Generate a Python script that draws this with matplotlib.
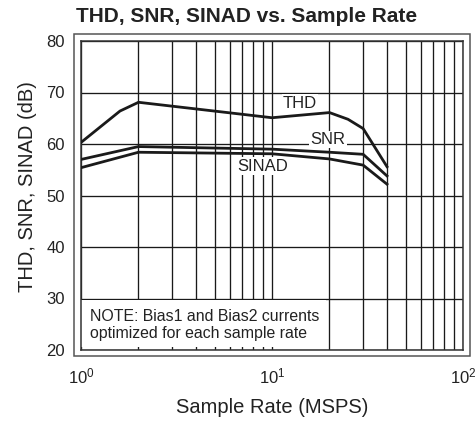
import matplotlib
matplotlib.use("Agg")
import matplotlib.pyplot as plt
import matplotlib.patches as patches
from matplotlib.ticker import FixedLocator, FixedFormatter, NullFormatter

plt.rcParams["font.family"] = ["Liberation Sans", "DejaVu Sans"]

# curves (sample rate in MSPS, level in dB)
thd_x = [1, 1.6, 2, 10, 20, 25, 30, 40]
thd_y = [60.3, 66.4, 68.1, 65.1, 66.1, 64.8, 63.0, 55.6]
snr_x = [1, 2, 10, 20, 30, 40]
snr_y = [57.0, 59.5, 59.0, 58.4, 58.0, 53.8]
sinad_x = [1, 2, 10, 20, 30, 40]
sinad_y = [55.4, 58.4, 58.1, 57.1, 55.9, 52.2]

x_ticks = [1, 10, 100]
x_tick_labels = [r"$\mathregular{10^{0}}$", r"$\mathregular{10^{1}}$", r"$\mathregular{10^{2}}$"]
y_ticks = [20, 30, 40, 50, 60, 70, 80]
minor_x = [m * d for d in (1, 10) for m in range(2, 10)]

ink = "#1a1a1a"
txt = "#222222"

fig = plt.figure(figsize=(4.77, 4.22), dpi=100)
ax = fig.add_axes([81 / 477, 1 - 350 / 422, 382 / 477, 309 / 422])

ax.set_xscale("log")
ax.set_xlim(1, 100)
ax.set_ylim(20, 80)
ax.xaxis.set_major_locator(FixedLocator(x_ticks))
ax.xaxis.set_major_formatter(FixedFormatter(x_tick_labels))
ax.xaxis.set_minor_locator(FixedLocator(minor_x))
ax.xaxis.set_minor_formatter(NullFormatter())
ax.set_yticks(y_ticks)
ax.tick_params(which="both", length=0, labelsize=12, colors=txt)
ax.tick_params(axis="x", pad=12)
ax.tick_params(axis="y", pad=11.5)

ax.set_axisbelow(True)
ax.grid(True, which="both", color=ink, lw=0.95)
for s in ax.spines.values():
    s.set_color("#333333")
    s.set_linewidth(1.1)

# white box behind the note
ax.add_patch(patches.Rectangle((1, 20.6), 18.2, 9.2, facecolor="white",
                               edgecolor="none", zorder=1))

for xs, ys in [(thd_x, thd_y), (snr_x, snr_y), (sinad_x, sinad_y)]:
    ax.plot(xs, ys, color=ink, lw=2.0, zorder=3, solid_joinstyle="round")

lab_box = dict(facecolor="white", edgecolor="none", pad=1)
ax.text(14.0, 67.9, "THD", fontsize=12, ha="center", va="center", color=txt, bbox=lab_box, zorder=4)
ax.text(19.6, 60.9, "SNR", fontsize=12, ha="center", va="center", color=txt, bbox=lab_box, zorder=4)
ax.text(8.9, 55.7, "SINAD", fontsize=12, ha="center", va="center", color=txt, bbox=lab_box, zorder=4)

ax.text(1.12, 24.9, "NOTE: Bias1 and Bias2 currents\noptimized for each sample rate",
        fontsize=11.4, ha="left", va="center", linespacing=1.2, color=txt, zorder=4)

ax.set_xlabel("Sample Rate (MSPS)", fontsize=14.5, color=txt, labelpad=8)
ax.set_ylabel("THD, SNR, SINAD (dB)", fontsize=14.5, color=txt)
ax.yaxis.set_label_coords(-0.115, 0.53)

fig.text(247 / 477, 1 - 17 / 422, "THD, SNR, SINAD vs. Sample Rate",
         fontsize=15, fontweight="bold", ha="center", va="center", color=txt)

# outer frame around the plot area
fig.add_artist(patches.Rectangle((74.5 / 477, 1 - 356 / 422), 396 / 477, 322 / 422,
                                 transform=fig.transFigure, fill=False,
                                 edgecolor="#555555", lw=1.1))

fig.savefig("out.png", dpi=100)
